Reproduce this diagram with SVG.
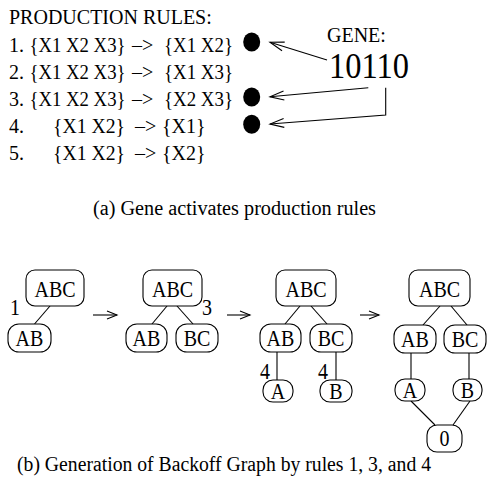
<svg xmlns="http://www.w3.org/2000/svg" width="487" height="483" viewBox="0 0 487 483">
  <style>
    text { font-family: 'Liberation Serif', Tinos, 'Times New Roman', Times, 'Nimbus Roman', 'DejaVu Serif', serif; font-size: 20px; fill: #000; }
    .lbl { text-anchor: middle; }
    .big { font-size: 32.5px; }
    .box { fill: #fff; stroke: #000; stroke-width: 1.1; }
    .edge { fill: none; stroke: #000; stroke-width: 1.1; }
    .dot { fill: #000; }
  </style>
  <defs>
    <marker id="head" markerUnits="userSpaceOnUse" viewBox="-15 -6 16 12" refX="0" refY="0" markerWidth="16" markerHeight="12" orient="auto" overflow="visible">
      <path d="M-14,-4.5 L0,0 L-14,4.5" fill="none" stroke="#000" stroke-width="1.1"/>
    </marker>
    <marker id="step" markerUnits="userSpaceOnUse" viewBox="-11 -5 12 10" refX="0" refY="0" markerWidth="12" markerHeight="10" orient="auto" overflow="visible">
      <path d="M-10,-4 L0,0 L-10,4" fill="none" stroke="#000" stroke-width="1.1"/>
    </marker>
  </defs>
  <rect width="487" height="483" fill="#fff"/>

  <!-- production rules -->
  <g id="rules">
    <text x="9" y="24">PRODUCTION RULES:</text>
    <text x="9" y="51.5">1.</text>
    <text x="29.5" y="51.5" textLength="96" lengthAdjust="spacingAndGlyphs">{X1 X2 X3}</text>
    <text x="132" y="51.5">–&gt;</text>
    <text x="164" y="51.5" textLength="69" lengthAdjust="spacingAndGlyphs">{X1 X2}</text>
    <text x="9" y="78.6">2.</text>
    <text x="29.5" y="78.6" textLength="96" lengthAdjust="spacingAndGlyphs">{X1 X2 X3}</text>
    <text x="132" y="78.6">–&gt;</text>
    <text x="164" y="78.6" textLength="69" lengthAdjust="spacingAndGlyphs">{X1 X3}</text>
    <text x="9" y="105.7">3.</text>
    <text x="29.5" y="105.7" textLength="96" lengthAdjust="spacingAndGlyphs">{X1 X2 X3}</text>
    <text x="132" y="105.7">–&gt;</text>
    <text x="164" y="105.7" textLength="69" lengthAdjust="spacingAndGlyphs">{X2 X3}</text>
    <text x="9" y="132.8">4.</text>
    <text x="53" y="132.8" textLength="72" lengthAdjust="spacingAndGlyphs">{X1 X2}</text>
    <text x="135" y="132.8">–&gt;</text>
    <text x="162" y="132.8">{X1}</text>
    <text x="9" y="159.9">5.</text>
    <text x="53" y="159.9" textLength="72" lengthAdjust="spacingAndGlyphs">{X1 X2}</text>
    <text x="135" y="159.9">–&gt;</text>
    <text x="162" y="159.9">{X2}</text>
  </g>

  <!-- active-rule markers -->
  <g id="markers">
    <ellipse class="dot" cx="251.7" cy="42" rx="8.5" ry="9.5"/>
    <ellipse class="dot" cx="251.7" cy="97" rx="8.5" ry="9.5"/>
    <ellipse class="dot" cx="251.7" cy="124.3" rx="8.5" ry="9.5"/>
  </g>

  <!-- gene -->
  <g id="gene">
    <text x="327" y="42">GENE:</text>
    <text class="big" transform="translate(329 78) scale(1 1.12)">10110</text>
  </g>

  <!-- gene bit connectors -->
  <g id="gene-links">
    <path class="edge" d="M327,60 L270,42.3" marker-end="url(#head)"/>
    <path class="edge" d="M368.3,87.7 L270,96.8" marker-end="url(#head)"/>
    <path class="edge" d="M385.7,87.7 L385.7,115 L270,124" marker-end="url(#head)"/>
  </g>

  <text x="93" y="215" textLength="283" lengthAdjust="spacingAndGlyphs">(a) Gene activates production rules</text>

  <!-- graph edges -->
  <g id="connectors">
    <path class="edge" d="M50,306 L34.5,324"/>
    <path class="edge" d="M167,306 L152,324"/>
    <path class="edge" d="M177,306 L193,324"/>
    <path class="edge" d="M300,306 L285,324"/>
    <path class="edge" d="M311,306 L327,324"/>
    <path class="edge" d="M277,352 L277,380"/>
    <path class="edge" d="M336,352 L336,380"/>
    <path class="edge" d="M440,306 L423,325"/>
    <path class="edge" d="M451,306 L467,325"/>
    <path class="edge" d="M411,353 L411,379"/>
    <path class="edge" d="M469,353 L469,379"/>
    <path class="edge" d="M411,401 L435,425"/>
    <path class="edge" d="M470,401 L453,425"/>
    <path class="edge" d="M93,315 L117,315" marker-end="url(#step)"/>
    <path class="edge" d="M227,315 L250,315" marker-end="url(#step)"/>
    <path class="edge" d="M360,315 L379,315" marker-end="url(#step)"/>
  </g>

  <!-- step 1 -->
  <g id="g1-abc"><rect class="box" x="26" y="270" width="58" height="36" rx="9"/><text class="lbl" transform="translate(55 296.5) scale(1 1.12)">ABC</text></g>
  <g id="g1-ab"><rect class="box" x="8" y="324" width="43" height="28" rx="11"/><text class="lbl" transform="translate(29.5 345.5) scale(1 1.12)">AB</text></g>
  <text transform="translate(10 315) scale(1 1.12)">1</text>

  <!-- step 2 -->
  <g id="g2-abc"><rect class="box" x="143" y="270" width="59" height="36" rx="9"/><text class="lbl" transform="translate(172.5 296.5) scale(1 1.12)">ABC</text></g>
  <g id="g2-ab"><rect class="box" x="126" y="324" width="41" height="28" rx="11"/><text class="lbl" transform="translate(146.5 345.5) scale(1 1.12)">AB</text></g>
  <g id="g2-bc"><rect class="box" x="176" y="324" width="42" height="28" rx="11"/><text class="lbl" transform="translate(197 345.5) scale(1 1.12)">BC</text></g>
  <text transform="translate(202 315) scale(1 1.12)">3</text>

  <!-- step 3 -->
  <g id="g3-abc"><rect class="box" x="276" y="270" width="60" height="36" rx="9"/><text class="lbl" transform="translate(306 296.5) scale(1 1.12)">ABC</text></g>
  <g id="g3-ab"><rect class="box" x="260" y="324" width="41" height="28" rx="11"/><text class="lbl" transform="translate(280.5 345.5) scale(1 1.12)">AB</text></g>
  <g id="g3-bc"><rect class="box" x="310" y="324" width="42" height="28" rx="11"/><text class="lbl" transform="translate(331 345.5) scale(1 1.12)">BC</text></g>
  <g id="g3-a"><rect class="box" x="263" y="380" width="30" height="22" rx="10"/><text class="lbl" transform="translate(278 398.5) scale(1 1.12)">A</text></g>
  <g id="g3-b"><rect class="box" x="320" y="380" width="32" height="22" rx="10"/><text class="lbl" transform="translate(336 398.5) scale(1 1.12)">B</text></g>
  <text transform="translate(260 379) scale(1 1.12)">4</text>
  <text transform="translate(318 379) scale(1 1.12)">4</text>

  <!-- step 4 -->
  <g id="g4-abc"><rect class="box" x="409" y="270" width="61" height="36" rx="9"/><text class="lbl" transform="translate(439.5 296.5) scale(1 1.12)">ABC</text></g>
  <g id="g4-ab"><rect class="box" x="394" y="325" width="42" height="28" rx="11"/><text class="lbl" transform="translate(415 346.5) scale(1 1.12)">AB</text></g>
  <g id="g4-bc"><rect class="box" x="444" y="325" width="42" height="28" rx="11"/><text class="lbl" transform="translate(465 346.5) scale(1 1.12)">BC</text></g>
  <g id="g4-a"><rect class="box" x="395" y="379" width="30" height="22" rx="10"/><text class="lbl" transform="translate(410 397.5) scale(1 1.12)">A</text></g>
  <g id="g4-b"><rect class="box" x="453" y="379" width="29" height="22" rx="10"/><text class="lbl" transform="translate(467.5 397.5) scale(1 1.12)">B</text></g>
  <g id="g4-zero"><rect class="box" x="427" y="425" width="35" height="27" rx="10"/><text class="lbl" transform="translate(444.5 446) scale(1 1.12)">0</text></g>

  <text x="17" y="471" textLength="414" lengthAdjust="spacingAndGlyphs">(b) Generation of Backoff Graph by rules 1, 3, and 4</text>
</svg>
